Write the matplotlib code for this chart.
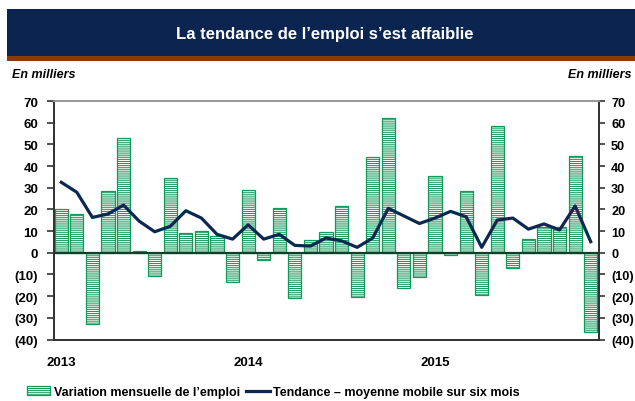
import matplotlib
matplotlib.use("Agg")
from matplotlib import pyplot as plt
from matplotlib.patches import Rectangle, Patch
from matplotlib.lines import Line2D
import numpy as np

green = '#16985a'
navy = '#0c2850'
hatch = '--------'

plt.rcParams['font.family'] = ['Liberation Sans', 'DejaVu Sans']
plt.rcParams['hatch.linewidth'] = 0.75
plt.rcParams['hatch.color'] = green

# variation mensuelle (milliers), jan 2013 - nov 2015
variation = [20, 18, -33, 28.5, 53, 0.6, -10.5, 34.5, 9.2, 9.9, 7.6, -13.3,
             28.8, -3.4, 20.5, -21, 5.7, 9.7, 21.4, -20.2, 44, 62, -16.3, -11.4,
             35.3, -1.2, 28.5, -19.7, 58.6, -6.8, 6.5, 11.7, 12, 44.5, -36.4]
tendance = [32.5, 27.9, 16.3, 17.9, 22.0, 14.6, 9.7, 12.2, 19.4, 16.0, 8.5, 6.3,
            12.9, 6.3, 8.5, 3.4, 3.1, 6.8, 5.5, 2.5, 6.8, 20.5, 17.0, 13.5,
            16.0, 19.1, 16.6, 2.5, 15.1, 16.0, 10.9, 13.3, 10.5, 21.6, 5.1]
annees = ['2013', '2014', '2015']
yticks = [-40, -30, -20, -10, 0, 10, 20, 30, 40, 50, 60, 70]

fig = plt.figure(figsize=(6.35, 4.02), dpi=100)

# bandeau du titre
fig.patches.append(Rectangle((7 / 635, 345 / 402), 1, 47 / 402, transform=fig.transFigure,
                             facecolor='#0b2550', edgecolor='none'))
fig.patches.append(Rectangle((7 / 635, 340 / 402), 1, 5 / 402, transform=fig.transFigure,
                             facecolor='#8a3a0c', edgecolor='none'))
fig.text(0.512, 0.913, "La tendance de l\u2019emploi s\u2019est affaiblie", color='white',
         fontsize=12, fontweight='bold', ha='center', va='center')
fig.text(12 / 635, 0.813, "En milliers", fontsize=9, fontweight='bold', style='italic',
         ha='left', va='center')
fig.text(632 / 635, 0.813, "En milliers", fontsize=9, fontweight='bold', style='italic',
         ha='right', va='center')

ax = fig.add_axes([53.5 / 635, 61.5 / 402, 545 / 635, 238.5 / 402])
x = np.arange(len(variation))
ax.bar(x, variation, width=0.84, facecolor='white', edgecolor=green, hatch=hatch,
       linewidth=0.9, zorder=2)
ax.axhline(0, color='#10402a', lw=1.6, zorder=3)
ax.plot(x, tendance, color=navy, lw=2.3, zorder=4)

ax.set_xlim(-0.5, len(variation) - 0.5)
ax.set_ylim(-40, 70)
ax.set_yticks(yticks)
lab = [str(v) if v >= 0 else '(%d)' % -v for v in yticks]
ax.set_yticklabels(lab, fontsize=9.5, fontweight='bold')
ax.set_xticks([0, 12, 24])
ax.set_xticklabels(annees, fontsize=9.5, fontweight='bold')
ax.tick_params(axis='x', length=0, pad=12)
ax.tick_params(axis='y', direction='out', length=5, width=1.2, color='#333333', pad=6)

ax2 = ax.twinx()
ax2.set_ylim(-40, 70)
ax2.set_yticks(yticks)
ax2.set_yticklabels(lab, fontsize=9.2, fontweight='bold')
ax2.tick_params(axis='y', direction='out', length=4, width=1.2, color='#333333', pad=5)

for a in (ax, ax2):
    a.spines['left'].set_color('#333333')
    a.spines['right'].set_color('#333333')
    a.spines['bottom'].set_color('#333333')
    a.spines['top'].set_color('#999999')
    for s in a.spines.values():
        s.set_linewidth(1.3)

handles = [Patch(facecolor='white', edgecolor=green, hatch=hatch, linewidth=0.9),
           Line2D([0], [0], color=navy, lw=2.3)]
fig.legend(handles, ["Variation mensuelle de l\u2019emploi",
                     "Tendance \u2013 moyenne mobile sur six mois"],
           loc='center', bbox_to_anchor=(0.43, 0.022), ncol=2, frameon=False,
           prop={'size': 9, 'weight': 'bold'}, handlelength=1.9, handleheight=0.75,
           columnspacing=0.5, handletextpad=0.25, borderpad=0.2)

fig.savefig('out.png', dpi=100)
